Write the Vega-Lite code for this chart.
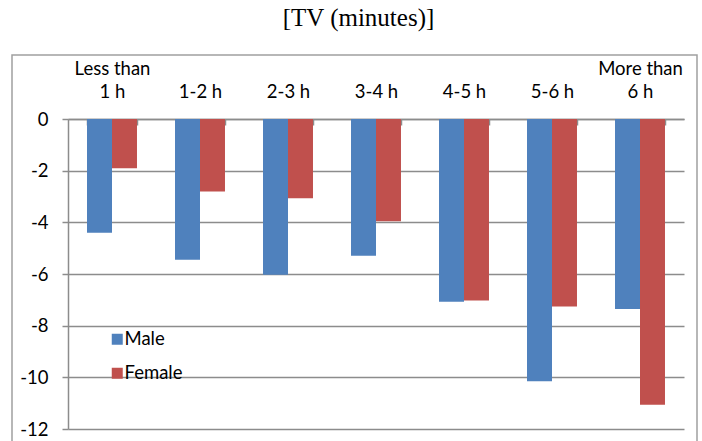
{
  "$schema": "https://vega.github.io/schema/vega-lite/v6.json",
  "width": 685,
  "height": 400,
  "autosize": "none",
  "padding": {"left": 12, "top": 55, "right": 5, "bottom": 0},
  "background": "white",
  "title": {
    "text": "[TV (minutes)]",
    "font": "Liberation Serif",
    "fontSize": 25,
    "fontWeight": "normal",
    "color": "black",
    "anchor": "middle",
    "baseline": "alphabetic",
    "offset": 4,
    "dx": 4
  },
  "data": {
    "values": [
      {"duration": "Less than 1 h", "sex": "Male", "change": -4.4},
      {"duration": "Less than 1 h", "sex": "Female", "change": -1.91},
      {"duration": "1-2 h", "sex": "Male", "change": -5.45},
      {"duration": "1-2 h", "sex": "Female", "change": -2.81},
      {"duration": "2-3 h", "sex": "Male", "change": -6.03},
      {"duration": "2-3 h", "sex": "Female", "change": -3.07},
      {"duration": "3-4 h", "sex": "Male", "change": -5.29},
      {"duration": "3-4 h", "sex": "Female", "change": -3.96},
      {"duration": "4-5 h", "sex": "Male", "change": -7.07},
      {"duration": "4-5 h", "sex": "Female", "change": -7.03},
      {"duration": "5-6 h", "sex": "Male", "change": -10.15},
      {"duration": "5-6 h", "sex": "Female", "change": -7.26},
      {"duration": "More than 6 h", "sex": "Male", "change": -7.35},
      {"duration": "More than 6 h", "sex": "Female", "change": -11.06}
    ]
  },
  "mark": {"type": "bar"},
  "encoding": {
    "x": {
      "field": "duration",
      "type": "nominal",
      "sort": null,
      "scale": {"range": [56, 672], "paddingInner": 0.432, "paddingOuter": 0.216},
      "axis": {
        "orient": "top",
        "offset": -64,
        "title": null,
        "labelAngle": 0,
        "labelExpr": "datum.value == 'Less than 1 h' ? ['Less than', '1 h'] : datum.value == 'More than 6 h' ? ['More than', '6 h'] : ['', datum.value]",
        "labelLineHeight": 23,
        "labelPadding": 47,
        "tickBand": "extent",
        "tickSize": -6,
        "grid": false
      }
    },
    "xOffset": {
      "field": "sex",
      "type": "nominal",
      "sort": ["Male", "Female"],
      "scale": {"paddingInner": 0, "paddingOuter": 0}
    },
    "y": {
      "field": "change",
      "type": "quantitative",
      "scale": {"domain": [-12, 0], "range": [374, 64], "nice": false, "zero": false},
      "axis": {
        "orient": "left",
        "offset": -56,
        "title": null,
        "values": [0, -2, -4, -6, -8, -10, -12],
        "labelExpr": "toString(datum.value)",
        "tickSize": 6,
        "labelPadding": 14,
        "grid": true
      }
    },
    "color": {
      "field": "sex",
      "type": "nominal",
      "sort": ["Male", "Female"],
      "scale": {"domain": ["Male", "Female"], "range": ["#4F81BD", "#C0504D"]},
      "legend": {
        "title": null,
        "orient": "none",
        "legendX": 96,
        "legendY": 275,
        "symbolType": "square",
        "symbolSize": 121,
        "symbolStrokeWidth": 0,
        "labelFontSize": 18.5,
        "labelFont": "Lato",
        "labelColor": "black",
        "labelOffset": -2,
        "rowPadding": 15,
        "padding": 0
      }
    }
  },
  "config": {
    "view": {"stroke": "#a0a0a0", "strokeWidth": 1.5},
    "axis": {
      "labelFont": "Lato",
      "labelFontSize": 18.5,
      "labelColor": "black",
      "domainColor": "#8c8c8c",
      "domainWidth": 1.5,
      "tickColor": "#8c8c8c",
      "tickWidth": 1.5,
      "gridColor": "#8c8c8c",
      "gridWidth": 1.5
    }
  }
}
